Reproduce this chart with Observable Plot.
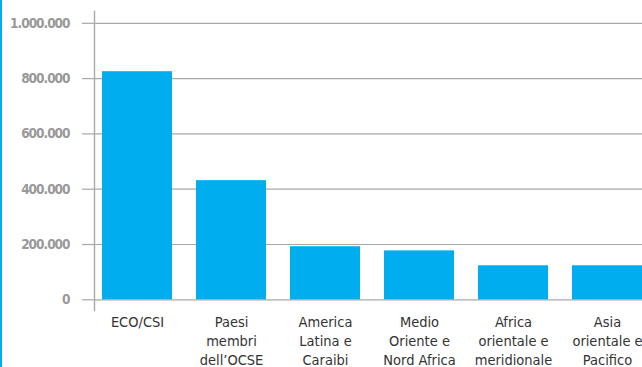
<!DOCTYPE html>
<html>
<head>
<meta charset="utf-8">
<script src="https://cdn.jsdelivr.net/npm/d3@7"></script>
<script src="https://cdn.jsdelivr.net/npm/@observablehq/plot@0.6"></script>
<style>
  html, body { margin: 0; padding: 0; background: #fff; }
  #chart { width: 640px; height: 367px; border-left: 2px solid #00aeef; }
  #chart svg { display: block; overflow: visible; }
  #chart svg g[aria-label="y-axis tick label"] { letter-spacing: -1px; }
</style>
</head>
<body>
<div id="chart"></div>
<script>
// Regions (labels wrap over several lines)
const regions = [
  "ECO/CSI",
  "Paesi\nmembri\ndell\u2019OCSE",
  "America\nLatina e\nCaraibi",
  "Medio\nOriente e\nNord Africa",
  "Africa\norientale e\nmeridionale",
  "Asia\norientale e\nPacifico"
];
const values = [825000, 431000, 192000, 177000, 123000, 123000];
const yTicks = [0, 200000, 400000, 600000, 800000, 1000000];

const data = regions.map((region, i) => ({region, value: values[i]}));

const fmt = d => d3.format(",")(d).replace(/,/g, ".");
const grid = "#a8a8a8";
const font = "'DejaVu Sans Condensed', 'DejaVu Sans', sans-serif";

const chart = Plot.plot({
  width: 640,
  height: 367,
  marginLeft: 92,
  marginRight: 0,
  marginTop: 11,
  marginBottom: 57,
  style: {fontFamily: font, background: "#fff", fontStretch: "condensed"},
  x: {domain: regions, paddingInner: 24 / 94, paddingOuter: 0.0425, align: 1},
  y: {domain: [0, 1000000], insetTop: 11.8, insetBottom: 10.7},
  marks: [
    Plot.gridY(yTicks, {stroke: grid, strokeOpacity: 1, strokeWidth: 1.2}),
    Plot.barY(data, {x: "region", y: "value", fill: "#00aeef"}),
    Plot.frame({anchor: "left", stroke: grid, strokeWidth: 1.4}),
    Plot.axisY(yTicks, {
      tickSize: 12, stroke: grid, strokeWidth: 1.2, tickPadding: 13,
      tickFormat: fmt, fontSize: 13.5, fontWeight: "bold", fill: "#999",
      label: null
    }),
    Plot.axisX({
      tickSize: 0, tickPadding: 3, fontSize: 14.5, fill: "#333",
      lineHeight: 1.32, label: null
    })
  ]
});

document.getElementById("chart").appendChild(chart);
</script>
</body>
</html>
